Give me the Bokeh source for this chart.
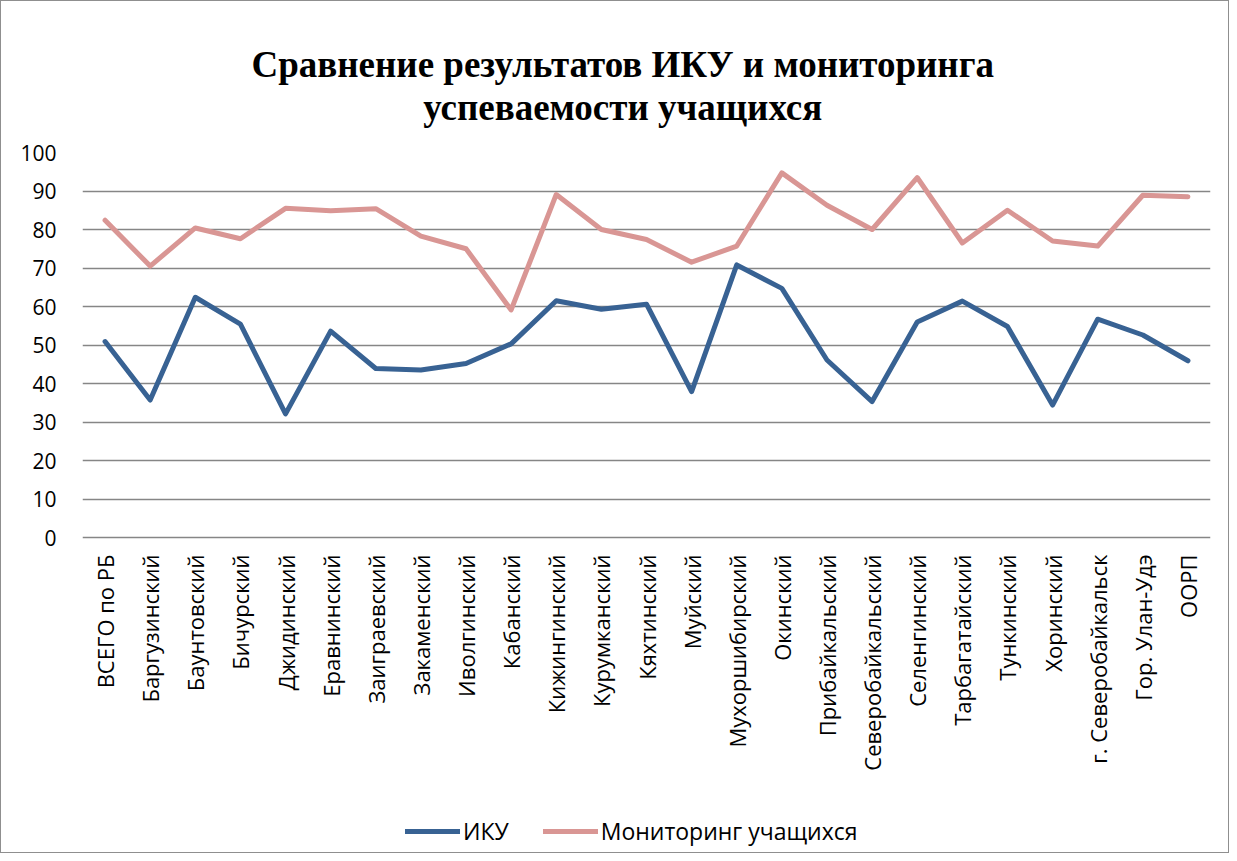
from math import pi
from bokeh.plotting import figure
from bokeh.models import FactorRange, Range1d, Legend, LegendItem, Title, ColumnDataSource, FixedTicker
from bokeh.embed import file_html
from bokeh.resources import INLINE

categories = ["ВСЕГО по РБ", "Баргузинский", "Баунтовский", "Бичурский", "Джидинский",
              "Еравнинский", "Заиграевский", "Закаменский", "Иволгинский", "Кабанский",
              "Кижингинский", "Курумканский", "Кяхтинский", "Муйский", "Мухоршибирский",
              "Окинский", "Прибайкальский", "Северобайкальский", "Селенгинский",
              "Тарбагатайский", "Тункинский", "Хоринский", "г. Северобайкальск",
              "Гор. Улан-Удэ", "ООРП"]

iku = [50.9, 35.7, 62.4, 55.4, 32.1, 53.6, 43.9, 43.5, 45.2, 50.3, 61.5, 59.3, 60.6,
       37.9, 70.8, 64.7, 46.1, 35.3, 56.0, 61.4, 54.8, 34.4, 56.7, 52.6, 45.9]

monitoring = [82.4, 70.5, 80.4, 77.6, 85.5, 84.9, 85.4, 78.3, 75.0, 59.1, 89.1, 80.0,
              77.4, 71.5, 75.7, 94.7, 86.3, 80.0, 93.5, 76.5, 85.0, 77.0, 75.7, 88.9, 88.5]

y_ticks = [0, 10, 20, 30, 40, 50, 60, 70, 80, 90, 100]

title_text = "Сравнение результатов ИКУ и мониторинга\nуспеваемости учащихся"
series_names = ["ИКУ", "Мониторинг учащихся"]

BLUE = "#386293"
PINK = "#D99694"
GRID = "#868686"
FONT = "Open Sans"

src = ColumnDataSource(data=dict(cat=categories, iku=iku, mon=monitoring))

# the frame reaches down to the legend; the value axis spans 0..100 in its upper 385 px
p = figure(frame_width=1128, frame_height=700, x_range=FactorRange(*categories),
           y_range=Range1d(100 - 700 / 3.85, 100), output_backend="svg", toolbar_location=None,
           min_border_left=81, min_border_right=18, min_border_bottom=0, min_border_top=151)
p.styles = {"border": "1px solid #8f8f8f"}
p.background_fill_color = "white"
p.border_fill_color = "white"
p.outline_line_color = None

title_kw = dict(text=title_text, align="left", offset=169, text_font="Liberation Serif",
                text_font_size="37px", text_font_style="bold", text_color="black",
                text_line_height=1.054, standoff=48)
try:
    p.title = Title(text_align="center", **title_kw)
except Exception:
    p.title = Title(**title_kw)
p.title_location = "above"

r1 = p.line("cat", "iku", source=src, line_color=BLUE, line_width=5,
            line_cap="round", line_join="round")
r2 = p.line("cat", "mon", source=src, line_color=PINK, line_width=5,
            line_cap="round", line_join="round")

p.xgrid.grid_line_color = None
p.ygrid.grid_line_color = GRID
p.ygrid.grid_line_width = 1.5
p.yaxis.ticker = FixedTicker(ticks=y_ticks)
p.xaxis.fixed_location = 0

for ax in (p.xaxis[0], p.yaxis[0]):
    ax.axis_line_color = None
    ax.major_tick_line_color = None
    ax.minor_tick_line_color = None
    ax.major_tick_in = 0
    ax.major_tick_out = 0
    ax.major_label_text_font = FONT
    ax.major_label_text_color = "black"

p.yaxis.major_label_text_font_size = "21px"
p.yaxis.major_label_standoff = 26
p.xaxis.major_label_text_font_size = "22px"
p.xaxis.major_label_orientation = pi / 2
p.xaxis.major_label_standoff = 17

legend = Legend(items=[LegendItem(label=series_names[0], renderers=[r1]),
                       LegendItem(label=series_names[1], renderers=[r2])],
                orientation="horizontal", location=(323, 5),
                glyph_width=55, glyph_height=28, label_height=28,
                label_standoff=3, spacing=34, padding=0, margin=0,
                border_line_color=None, background_fill_alpha=0,
                label_text_font=FONT, label_text_font_size="23px", label_text_color="black")
p.add_layout(legend, "center")

open("out.html", "w").write(file_html(p, INLINE))
